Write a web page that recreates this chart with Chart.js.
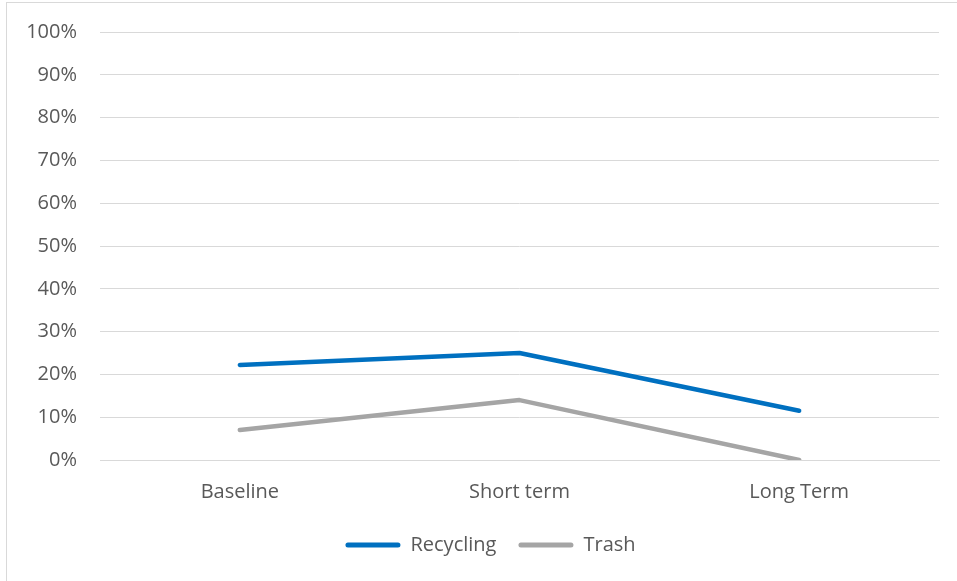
<!DOCTYPE html>
<html>
<head>
<meta charset="utf-8">
<title>Recycling vs Trash</title>
<script src="https://cdn.jsdelivr.net/npm/chart.js@4"></script>
<style>
  html, body { margin: 0; padding: 0; background: #ffffff; }
  body { width: 957px; height: 581px; position: relative; overflow: hidden; }
  .frame {
    position: absolute; left: 6px; top: 2px; width: 1000px; height: 700px;
    border-top: 1px solid #d9d9d9; border-left: 1px solid #d9d9d9;
  }
  canvas { position: absolute; left: 0; top: 0; }
</style>
</head>
<body>
<div class="frame"></div>
<canvas id="chart" width="957" height="581"></canvas>
<script>
// Time horizons on the category axis
const categories = ['Baseline', 'Short term', 'Long Term'];
// Share of items per stream, in percent
const recycling = [22.2, 25.0, 11.5];
const trash = [7.0, 14.0, 0.0];
// Value axis range and step, in percent
const yMin = 0;
const yMax = 100;
const yStep = 10;

const textColor = '#595959';
const gridColor = '#d9d9d9';
const fontFamily = '"Open Sans", "Liberation Sans", sans-serif';

// Nudge the legend block a little to the right
const legendNudge = {
  id: 'legendNudge',
  afterLayout(chart) {
    const lg = chart.legend;
    if (!lg) return;
    lg.left += 21;
    lg.right += 21;
  }
};

new Chart(document.getElementById('chart'), {
  type: 'line',
  data: {
    labels: categories,
    datasets: [
      {
        label: 'Recycling',
        data: recycling,
        borderColor: '#0070c0',
        backgroundColor: '#0070c0',
        borderWidth: 4.5,
        borderCapStyle: 'round',
        borderJoinStyle: 'round',
        pointRadius: 0,
        tension: 0
      },
      {
        label: 'Trash',
        data: trash,
        borderColor: '#a5a5a5',
        backgroundColor: '#a5a5a5',
        borderWidth: 4.5,
        borderCapStyle: 'round',
        borderJoinStyle: 'round',
        pointRadius: 0,
        tension: 0
      }
    ]
  },
  plugins: [legendNudge],
  options: {
    responsive: false,
    animation: false,
    layout: { autoPadding: false, padding: { left: 0, right: 18, top: 32, bottom: 16 } },
    plugins: {
      tooltip: { enabled: false },
      legend: {
        position: 'bottom',
        labels: {
          color: textColor,
          font: { family: fontFamily, size: 20 },
          boxWidth: 55,
          boxHeight: 5,
          useBorderRadius: true,
          borderRadius: 2.5,
          padding: 22,
          generateLabels(chart) {
            return chart.data.datasets.map((ds, i) => ({
              text: ds.label,
              fillStyle: ds.borderColor,
              strokeStyle: ds.borderColor,
              lineWidth: 0,
              fontColor: textColor,
              borderRadius: 2.5,
              datasetIndex: i,
              hidden: false
            }));
          }
        }
      }
    },
    scales: {
      x: {
        offset: true,
        afterFit(scale) { scale.height = 53; },
        grid: { display: false, drawTicks: false },
        border: { display: true, color: gridColor, width: 1 },
        ticks: {
          color: textColor,
          font: { family: fontFamily, size: 20 },
          padding: 20,
          maxRotation: 0
        }
      },
      y: {
        min: yMin,
        max: yMax,
        afterFit(scale) {
          scale.width = 100;
          scale.paddingTop = 0;
          scale.paddingBottom = 0;
        },
        grid: { color: gridColor, lineWidth: 1, drawTicks: false },
        border: { display: false },
        ticks: {
          stepSize: yStep,
          color: textColor,
          font: { family: fontFamily, size: 20 },
          padding: 23,
          callback: v => v + '%'
        }
      }
    }
  }
});
</script>
</body>
</html>
